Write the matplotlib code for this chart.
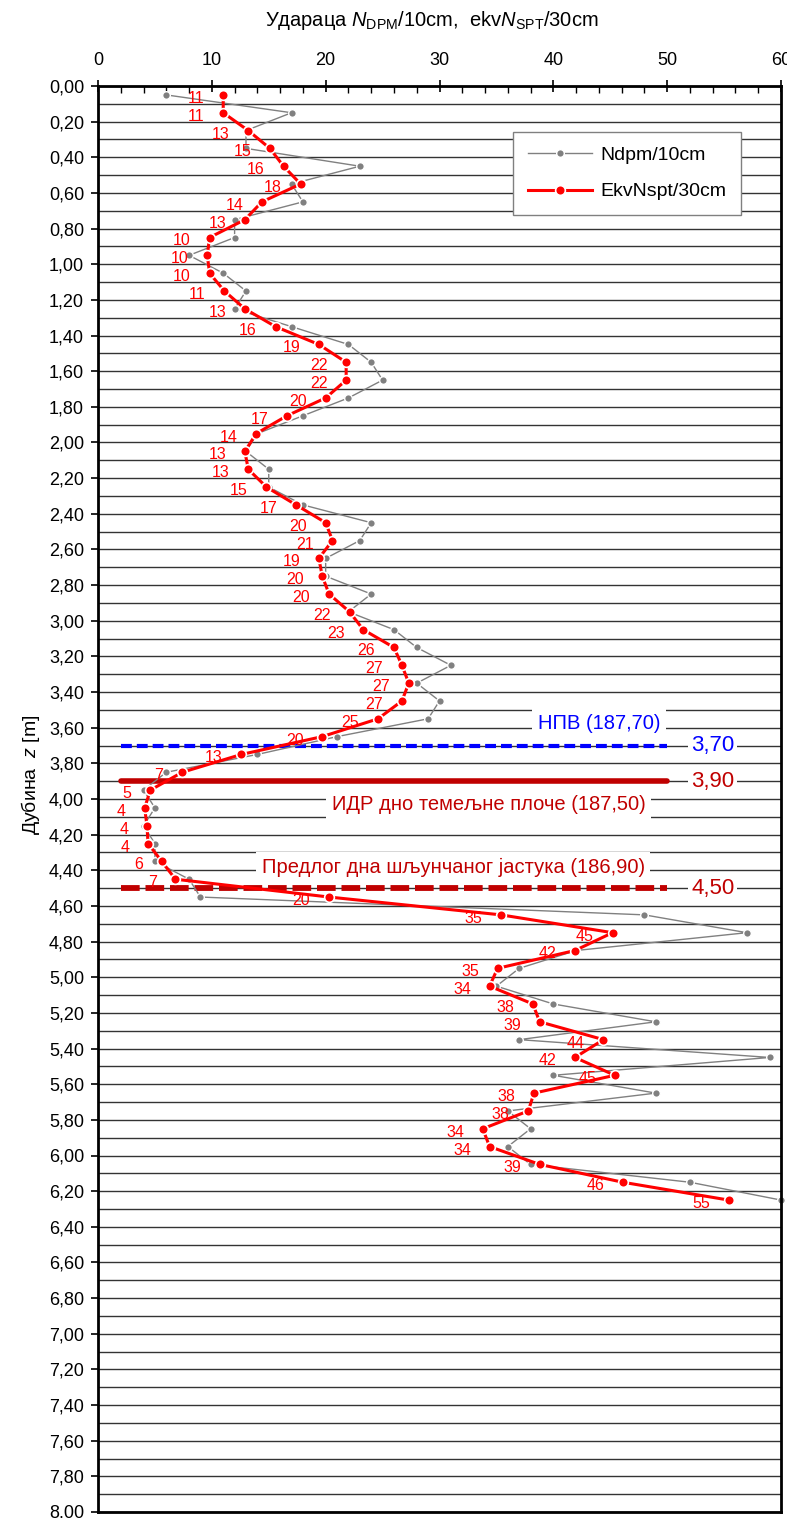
import matplotlib
matplotlib.use('Agg')
import matplotlib.pyplot as plt
from matplotlib.ticker import MultipleLocator, FixedLocator, FixedFormatter

plt.rcParams['font.family'] = ['Liberation Sans', 'DejaVu Sans']
plt.rcParams['mathtext.fontset'] = 'custom'
plt.rcParams['mathtext.rm'] = 'Liberation Sans'
plt.rcParams['mathtext.it'] = 'Liberation Sans:italic'

# ---------------- data ----------------
depths = [0.05, 0.15, 0.25, 0.35, 0.45, 0.55, 0.65, 0.75, 0.85, 0.95,
          1.05, 1.15, 1.25, 1.35, 1.45, 1.55, 1.65, 1.75, 1.85, 1.95,
          2.05, 2.15, 2.25, 2.35, 2.45, 2.55, 2.65, 2.75, 2.85, 2.95,
          3.05, 3.15, 3.25, 3.35, 3.45, 3.55, 3.65, 3.75, 3.85, 3.95,
          4.05, 4.15, 4.25, 4.35, 4.45, 4.55, 4.65, 4.75, 4.85, 4.95,
          5.05, 5.15, 5.25, 5.35, 5.45, 5.55, 5.65, 5.75, 5.85, 5.95,
          6.05, 6.15, 6.25]

ndpm = [6, 17, 13, 13, 23, 17, 18, 12, 12, 8,
        11, 13, 12, 17, 22, 24, 25, 22, 18, 14,
        13, 15, 15, 18, 24, 23, 20, 20, 24, 22,
        26, 28, 31, 28, 30, 29, 21, 14, 6, 4,
        5, 4, 5, 5, 8, 9, 48, 57, 42, 37,
        35, 40, 49, 37, 59, 40, 49, 36, 38, 36,
        38, 52, 60]

ekv_nspt = [11.0, 11.0, 13.2, 15.1, 16.3, 17.8, 14.4, 12.9, 9.8, 9.6,
            9.8, 11.1, 12.9, 15.6, 19.4, 21.8, 21.8, 20.0, 16.6, 13.9,
            12.9, 13.2, 14.8, 17.4, 20.0, 20.6, 19.4, 19.7, 20.3, 22.1,
            23.3, 26.0, 26.7, 27.3, 26.7, 24.6, 19.7, 12.6, 7.4, 4.6,
            4.1, 4.3, 4.4, 5.6, 6.8, 20.3, 35.4, 45.2, 41.9, 35.1,
            34.4, 38.2, 38.8, 44.4, 41.9, 45.4, 38.3, 37.8, 33.8, 34.4,
            38.8, 46.1, 55.4]

ytick_values = [0.0, 0.2, 0.4, 0.6, 0.8, 1.0, 1.2, 1.4, 1.6, 1.8, 2.0,
                2.2, 2.4, 2.6, 2.8, 3.0, 3.2, 3.4, 3.6, 3.8, 4.0, 4.2,
                4.4, 4.6, 4.8, 5.0, 5.2, 5.4, 5.6, 5.8, 6.0, 6.2, 6.4,
                6.6, 6.8, 7.0, 7.2, 7.4, 7.6, 7.8, 8.0]
ytick_labels = ["0,00", "0,20", "0,40", "0,60", "0,80", "1,00", "1,20",
                "1,40", "1,60", "1,80", "2,00", "2,20", "2,40", "2,60",
                "2,80", "3,00", "3,20", "3,40", "3,60", "3,80", "4,00",
                "4,20", "4,40", "4,60", "4,80", "5,00", "5,20", "5,40",
                "5,60", "5,80", "6,00", "6,20", "6,40", "6,60", "6,80",
                "7,00", "7,20", "7,40", "7,60", "7,80", "8.00"]

level_depths = [3.70, 3.90, 4.50]
level_labels = ["3,70", "3,90", "4,50"]
level_x_range = [2, 50]

note_texts = ["НПВ (187,70)", "ИДР дно темељне плоче (187,50)",
              "Предлог дна шљунчаног јастука (186,90)"]
note_pos = [(44.0, 3.575), (34.3, 4.03), (31.2, 4.385)]

BLUE = '#0000FF'
DRED = '#C00000'
RED = '#FF0000'
GRAY = '#808080'

# ---------------- figure ----------------
fig = plt.figure(figsize=(7.87, 15.21), dpi=100)
ax = fig.add_axes([98 / 787, 1 - 1512 / 1521, 683 / 787, 1426 / 1521])

ax.set_xlim(0, 60)
ax.set_ylim(8.0, 0.0)

for s in ax.spines.values():
    s.set_linewidth(2.0)
    s.set_color('black')
    s.set_zorder(10)

ax.xaxis.tick_top()
ax.xaxis.set_major_locator(MultipleLocator(10))
ax.xaxis.set_minor_locator(MultipleLocator(2))
ax.tick_params(axis='x', which='major', direction='inout', length=9, width=1.2,
               labelsize=13, pad=8)
ax.tick_params(axis='x', which='minor', direction='in', length=5, width=1.0)

ax.yaxis.set_major_locator(FixedLocator(ytick_values))
ax.yaxis.set_major_formatter(FixedFormatter(ytick_labels))
ax.yaxis.set_minor_locator(MultipleLocator(0.1))
ax.tick_params(axis='y', which='major', direction='out', length=5, width=1.2,
               labelsize=13, pad=5)
ax.tick_params(axis='y', which='minor', length=0)
ax.tick_params(right=False, bottom=False, which='both')

ax.grid(True, axis='y', which='both', color='#333333', linewidth=1.0, zorder=0)
ax.grid(False, axis='x')
ax.set_axisbelow(True)

# level lines
ax.plot(level_x_range, [level_depths[0]] * 2, color=BLUE, lw=3.0,
        dashes=(2.6, 1.2), zorder=2)
ax.plot(level_x_range, [level_depths[1]] * 2, color=DRED, lw=4.0,
        solid_capstyle='round', zorder=2)
ax.plot(level_x_range, [level_depths[2]] * 2, color=DRED, lw=4.2,
        dashes=(3.2, 1.0), zorder=2)

level_colors = [BLUE, DRED, DRED]
for d, lab, c in zip(level_depths, level_labels, level_colors):
    ax.text(54.0, d, lab, color=c, fontsize=16, ha='center', va='center',
            bbox=dict(facecolor='white', edgecolor='none', pad=2), zorder=5)

note_colors = [BLUE, DRED, DRED]
for t, (x, y), c in zip(note_texts, note_pos, note_colors):
    ax.text(x, y, t, color=c, fontsize=14.5, ha='center', va='center',
            bbox=dict(facecolor='white', edgecolor='none', pad=4), zorder=5)

# series
ax.plot(ndpm, depths, color=GRAY, lw=1.0, marker='o', ms=5.5,
        mfc=GRAY, mec='white', mew=1.0, label='Ndpm/10cm', zorder=3,
        clip_on=False)
ax.plot(ekv_nspt, depths, color=RED, lw=2.2, marker='o', ms=7,
        mfc=RED, mec='white', mew=1.2, label='EkvNspt/30cm', zorder=4,
        clip_on=False)

for v, d in zip(ekv_nspt, depths):
    ax.annotate(f"{v:.0f}", (v, d), xytext=(-13.5, -2.5),
                textcoords='offset points', ha='right', va='center',
                color=RED, fontsize=11.5, zorder=6)

leg = ax.legend(loc='upper left', bbox_to_anchor=(0.6076, 0.9677),
                borderaxespad=0, fontsize=14, handlelength=3.3,
                handletextpad=0.45, labelspacing=0.95, borderpad=0.75,
                fancybox=False, framealpha=1, edgecolor=GRAY)
leg.get_frame().set_linewidth(1.0)
leg.set_zorder(7)

fig.text(432 / 787, 1 - 20 / 1521,
         r'Удараца $N_{\mathrm{DPM}}$/10cm,  ekv$N_{\mathrm{SPT}}$/30cm',
         ha='center', va='center', fontsize=14.5)
fig.text(30 / 787, 1 - 775 / 1521, r'Дубина  $z$ [m]', rotation=90,
         ha='center', va='center', fontsize=14)

fig.savefig('out.png', dpi=100)
